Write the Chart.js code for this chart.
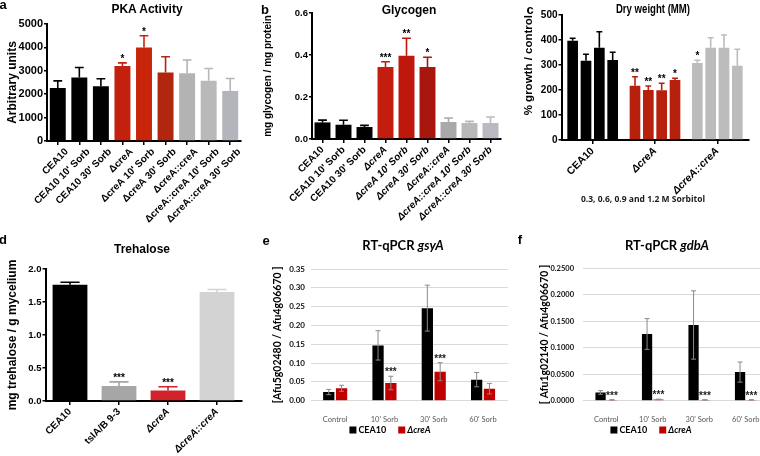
<!DOCTYPE html>
<html>
<head>
<meta charset="utf-8">
<script src="https://cdn.jsdelivr.net/npm/chart.js@4.4.0/dist/chart.umd.min.js"></script>
<style>
html, body { margin: 0; padding: 0; background: #fff; }
body { width: 760px; height: 456px; position: relative; overflow: hidden; font-family: 'Liberation Sans', Arial, sans-serif; }
canvas { position: absolute; }
.t { position: absolute; transform: translate(-50%, -50%); white-space: nowrap; font-weight: bold; line-height: 1; color: #000; }
.xl { font-family: Lato, 'Liberation Sans', sans-serif; }
</style>
</head>
<body>
<canvas id="pka" width="250" height="230" style="left:0;top:0"></canvas>
<canvas id="gly" width="260" height="230" style="left:250px;top:0"></canvas>
<canvas id="dry" width="255" height="230" style="left:505px;top:0"></canvas>
<canvas id="tre" width="250" height="226" style="left:0;top:230px"></canvas>
<canvas id="gsy" width="260" height="226" style="left:250px;top:230px"></canvas>
<canvas id="gdb" width="280" height="226" style="left:505px;top:230px"></canvas>

<div class="t" style="left:3px;top:4px;font-size:13px">a</div>
<div class="t" style="left:147px;top:9px;font-size:12px">PKA Activity</div>
<div class="t" style="left:265px;top:9px;font-size:13px">b</div>
<div class="t" style="left:409px;top:10px;font-size:12px">Glycogen</div>
<div class="t" style="left:530px;top:9px;font-size:13px">c</div>
<div class="t" style="left:653px;top:9px;font-size:12px;transform:translate(-50%,-50%) scaleX(0.8)">Dry weight (MM)</div>
<div class="t" style="left:643px;top:199px;font-size:8.5px;font-family:'Open Sans',sans-serif;font-weight:700;color:#1a1a1a">0.3, 0.6, 0.9 and 1.2 M Sorbitol</div>
<div class="t" style="left:3px;top:239px;font-size:13px">d</div>
<div class="t" style="left:142px;top:249px;font-size:12px">Trehalose</div>
<div class="t" style="left:266px;top:240px;font-size:13px">e</div>
<div class="t xl" style="left:403px;top:245px;font-size:13px">RT-qPCR <i>gsyA</i></div>
<div class="t" style="left:520px;top:239px;font-size:13px">f</div>
<div class="t xl" style="left:667px;top:245px;font-size:13px">RT-qPCR <i>gdbA</i></div>

<script>
// ---- data ----
const strainLabels = ['CEA10', "CEA10 10' Sorb", "CEA10 30' Sorb", 'ΔcreA', "ΔcreA 10' Sorb", "ΔcreA 30' Sorb",
  'ΔcreA::creA', "ΔcreA::creA 10' Sorb", "ΔcreA::creA 30' Sorb"];

const pkaValues = [2270, 2710, 2340, 3200, 4000, 2930, 2890, 2570, 2140];
const pkaErrors = [300, 430, 320, 140, 500, 670, 570, 530, 530];
const pkaStars = ['', '', '', '*', '*', '', '', '', ''];

const glyValues = [0.079, 0.068, 0.057, 0.343, 0.397, 0.343, 0.081, 0.076, 0.076];
const glyErrors = [0.011, 0.021, 0.008, 0.025, 0.083, 0.046, 0.019, 0.008, 0.029];
const glyStars = ['', '', '', '***', '**', '*', '', '', ''];

const dryGroups = ['CEA10', 'ΔcreA', 'ΔcreA::creA'];
const sorbitolLevels = ['0.3 M', '0.6 M', '0.9 M', '1.2 M'];
const dry03 = [397, 217, 308], dry03Err = [10, 36, 11], dry03Stars = ['', '**', '*'];
const dry06 = [317, 200, 369], dry06Err = [26, 16, 40], dry06Stars = ['', '**', ''];
const dry09 = [369, 199, 369], dry09Err = [64, 28, 51], dry09Stars = ['', '**', ''];
const dry12 = [320, 240, 297], dry12Err = [31, 7, 66], dry12Stars = ['', '*', ''];

const treLabels = ['CEA10', 'tslA/B 9-3', 'ΔcreA', 'ΔcreA::creA'];
const treValues = [1.76, 0.227, 0.16, 1.65];
const treErrors = [0.04, 0.063, 0.057, 0.04];
const treStars = ['', '***', '***', ''];

const timeLabels = ['Control', "10' Sorb", "30' Sorb", "60' Sorb"];
const gsyCEA10 = [0.023, 0.147, 0.246, 0.056];
const gsyCEA10Err = [0.007, 0.039, 0.061, 0.019];
const gsyCreA = [0.033, 0.047, 0.077, 0.032];
const gsyCreAErr = [0.008, 0.018, 0.024, 0.014];
const gsyStars = ['', '***', '***', ''];

const gdbCEA10 = [0.0156, 0.126, 0.143, 0.054];
const gdbCEA10Err = [0.0034, 0.029, 0.0645, 0.019];
const gdbCreA = [0.0015, 0.0025, 0.0015, 0.0015];
const gdbCreAErr = [0.0004, 0.0005, 0.0004, 0.0004];
const gdbStars = ['***', '***', '***', '***'];

// ---- styles ----
const PRISM = "'Liberation Sans', Arial, sans-serif";
const EXCEL = "Lato, 'Liberation Sans', sans-serif";
const pkaColors = ['#000', '#000', '#000', '#c3200e', '#c9250b', '#b0260f', '#b3b3b3', '#b9b9b9', '#b4b5bc'];
const glyColors = ['#000', '#000', '#000', '#c21d0e', '#bd180b', '#a8160d', '#a9a9a9', '#b9b9b9', '#b9bac1'];
const dryColors = ['#000', '#b8200e', '#bcbcbc'];
const treColors = ['#000', '#a6a6a6', '#d2232a', '#d3d3d3'];

// error bars + significance stars
const errorBars = {
  id: 'errorBars',
  afterDatasetsDraw(chart, args, o) {
    const ctx = chart.ctx, y = chart.scales.y;
    chart.data.datasets.forEach((ds, di) => {
      chart.getDatasetMeta(di).data.forEach((bar, i) => {
        const v = ds.data[i], e = ds.errors[i];
        const top = y.getPixelForValue(v + e);
        const low = o.both ? y.getPixelForValue(v - e) : y.getPixelForValue(v);
        const cap = o.cap || bar.width * 0.55;
        ctx.save();
        ctx.strokeStyle = o.color || (Array.isArray(ds.backgroundColor) ? ds.backgroundColor[i] : ds.backgroundColor);
        ctx.lineWidth = o.lineWidth;
        ctx.beginPath();
        ctx.moveTo(bar.x, low); ctx.lineTo(bar.x, top);
        ctx.moveTo(bar.x - cap / 2, top); ctx.lineTo(bar.x + cap / 2, top);
        if (o.both) { ctx.moveTo(bar.x - cap / 2, low); ctx.lineTo(bar.x + cap / 2, low); }
        ctx.stroke();
        const s = ds.stars && ds.stars[i];
        if (s) {
          ctx.fillStyle = o.starColor;
          ctx.font = o.starFont;
          ctx.textAlign = 'center';
          ctx.textBaseline = 'alphabetic';
          ctx.fillText(s, bar.x, top - 1);
        }
        ctx.restore();
      });
    });
  }
};

// excel style legend under the axis
const keyLegend = {
  id: 'keyLegend',
  afterDraw(chart, args, o) {
    if (!o.x) return;
    const ctx = chart.ctx;
    const items = chart.data.datasets.map((ds, i) => ({ text: ds.label, color: ds.backgroundColor, italic: i === 1 }));
    const font = it => (it.italic ? 'italic ' : '') + 'bold ' + o.size + 'px ' + EXCEL;
    ctx.save();
    let w = 0;
    items.forEach((it, i) => {
      ctx.font = font(it);
      it.w = ctx.measureText(it.text).width;
      w += o.box + o.gap + it.w + (i ? o.space : 0);
    });
    let x = o.x - w / 2;
    ctx.textBaseline = 'middle';
    ctx.textAlign = 'left';
    items.forEach((it, i) => {
      if (i) x += o.space;
      ctx.fillStyle = it.color;
      ctx.fillRect(x, o.y - o.box / 2, o.box, o.box);
      x += o.box + o.gap;
      ctx.font = font(it);
      ctx.fillStyle = '#000';
      ctx.fillText(it.text, x, o.y + 0.5);
      x += it.w;
    });
    ctx.restore();
  }
};

function tickFont(size, italicIdx) {
  return c => ({ family: PRISM, size: size, weight: 'bold', style: italicIdx.includes(c.index) ? 'italic' : 'normal' });
}

function prismChart(id, labels, datasets, c) {
  return new Chart(document.getElementById(id), {
    type: 'bar',
    data: { labels, datasets },
    plugins: [errorBars],
    options: {
      responsive: false,
      animation: false,
      layout: { padding: { top: c.top, right: c.right, left: 0, bottom: 0 } },
      plugins: {
        legend: { display: false },
        tooltip: { enabled: false },
        errorBars: { lineWidth: 1.6, starColor: '#000', starFont: 'bold 10px ' + PRISM }
      },
      scales: {
        x: {
          grid: { display: true, drawOnChartArea: false, offset: false, color: '#000', lineWidth: 1.5, tickLength: 4 },
          border: { display: true, color: '#000', width: 2 },
          ticks: { color: '#000', font: tickFont(c.xSize, c.italic), maxRotation: 45, minRotation: 45, autoSkip: false,
            padding: 1, labelOffset: c.labelOffset || 0 },
          afterFit: s => { s.height = c.xh; }
        },
        y: {
          min: 0, max: c.max,
          ticks: { stepSize: c.step, color: '#000', font: { family: PRISM, size: c.ySize, weight: 'bold' }, padding: 1, callback: c.fmt },
          grid: { display: true, drawOnChartArea: false, color: '#000', lineWidth: 1.5, tickLength: 3 },
          border: { display: true, color: '#000', width: 2 },
          title: { display: true, text: c.title, color: '#000', align: c.align || 'center',
            font: { family: PRISM, size: c.titleSize, weight: 'bold' }, padding: { top: c.titlePad, bottom: 0 } },
          afterFit: s => { s.width = c.yw; }
        }
      }
    }
  });
}

function excelChart(id, datasets, c) {
  return new Chart(document.getElementById(id), {
    type: 'bar',
    data: { labels: timeLabels, datasets },
    plugins: [errorBars, keyLegend],
    options: {
      responsive: false,
      animation: false,
      layout: { padding: { top: c.top, right: c.right, left: 0, bottom: 0 } },
      plugins: {
        legend: { display: false },
        tooltip: { enabled: false },
        errorBars: { both: true, color: '#8a8a8a', lineWidth: 1, cap: 5, starColor: '#222', starFont: 'bold 10px ' + PRISM },
        keyLegend: { x: c.legendX, y: 200, size: 9, box: 7, gap: 2, space: 12 }
      },
      scales: {
        x: {
          grid: { display: false },
          border: { display: false },
          ticks: { color: '#595959', font: { family: EXCEL, size: 7.5 }, maxRotation: 0, autoSkip: false, padding: 6 },
          afterFit: s => { s.height = 55.3; }
        },
        y: {
          min: 0, max: c.max,
          ticks: { stepSize: 0.05, color: '#111', font: { family: EXCEL, size: c.ySize, weight: 'bold' }, padding: c.tickPad,
            callback: v => v.toFixed(c.digits) },
          grid: { color: '#d9d9d9', lineWidth: 1, drawTicks: false },
          border: { display: false },
          title: { display: true, text: c.title, color: '#000',
            font: { family: EXCEL, size: 10.5, weight: 'bold' }, padding: { top: c.titlePad, bottom: 0 } },
          afterFit: s => { s.width = c.yw; }
        }
      }
    }
  });
}

// a
prismChart('pka', strainLabels,
  [{ data: pkaValues, errors: pkaErrors, stars: pkaStars, backgroundColor: pkaColors, barPercentage: 0.74, categoryPercentage: 1 }],
  { top: 24, right: 9, xh: 89, yw: 47, max: 5000, step: 1000, ySize: 11, xSize: 10, italic: [], labelOffset: 9,
    title: 'Arbitrary units', titleSize: 12, titlePad: 5 });

// b
prismChart('gly', strainLabels,
  [{ data: glyValues, errors: glyErrors, stars: glyStars, backgroundColor: glyColors, barPercentage: 0.76, categoryPercentage: 1 }],
  { top: 13, right: 9, xh: 91, yw: 62, max: 0.6, step: 0.2, ySize: 9.5, xSize: 10, italic: [3, 4, 5, 6, 7, 8],
    fmt: v => v.toFixed(1), title: 'mg glycogen / mg protein', titleSize: 10, titlePad: 12 });

// c
const dryBar = (label, data, errors, stars) => ({ label, data, errors, stars, backgroundColor: dryColors, barPercentage: 0.8, categoryPercentage: 0.856 });
prismChart('dry', dryGroups,
  [dryBar(sorbitolLevels[0], dry03, dry03Err, dry03Stars), dryBar(sorbitolLevels[1], dry06, dry06Err, dry06Stars),
   dryBar(sorbitolLevels[2], dry09, dry09Err, dry09Stars), dryBar(sorbitolLevels[3], dry12, dry12Err, dry12Stars)],
  { top: 15, right: 11.5, xh: 90, yw: 56.5, max: 500, step: 100, ySize: 10, xSize: 10.5, italic: [1, 2],
    title: '% growth / control', titleSize: 11.5, titlePad: 17, align: 'end' });

// d
prismChart('tre', treLabels,
  [{ data: treValues, errors: treErrors, stars: treStars, backgroundColor: treColors, barPercentage: 0.71, categoryPercentage: 1 }],
  { top: 39, right: 8.5, xh: 55, yw: 45.5, max: 2.0, step: 0.5, ySize: 9.5, xSize: 10, italic: [2, 3],
    fmt: v => v.toFixed(1), title: 'mg trehalose / g mycelium', titleSize: 12, titlePad: 5 });

// e
excelChart('gsy',
  [{ label: 'CEA10', data: gsyCEA10, errors: gsyCEA10Err, backgroundColor: '#000', barPercentage: 0.88, categoryPercentage: 0.52 },
   { label: 'ΔcreA', data: gsyCreA, errors: gsyCreAErr, stars: gsyStars, backgroundColor: '#c00000', barPercentage: 0.88, categoryPercentage: 0.52 }],
  { top: 39, right: 2.3, yw: 60.5, max: 0.35, digits: 2, ySize: 8, tickPad: 5.5,
    title: '[Afu5g02480 / Afu4g06670 ]', titlePad: 21.5, legendX: 140 });

// f
excelChart('gdb',
  [{ label: 'CEA10', data: gdbCEA10, errors: gdbCEA10Err, backgroundColor: '#000', barPercentage: 0.9, categoryPercentage: 0.49 },
   { label: 'ΔcreA', data: gdbCreA, errors: gdbCreAErr, stars: gdbStars, backgroundColor: '#c00000', barPercentage: 0.9, categoryPercentage: 0.49 }],
  { top: 38.3, right: 16, yw: 78, max: 0.25, digits: 4, ySize: 7.5, tickPad: 9,
    title: '[ Afu1g02140 / Afu4g06670 ]', titlePad: 33.5, legendX: 146 });
</script>
</body>
</html>
